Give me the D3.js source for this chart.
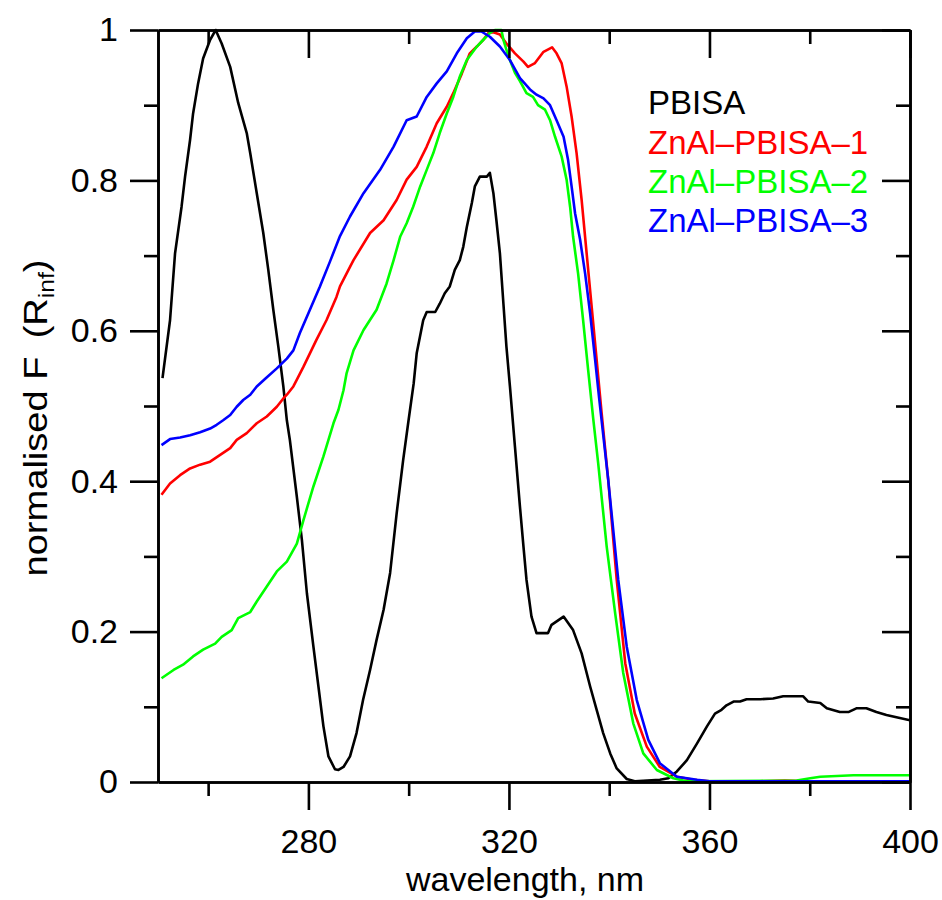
<!DOCTYPE html>
<html>
<head>
<meta charset="utf-8">
<script src="https://cdn.jsdelivr.net/npm/d3@7"></script>
<style>
  html, body { margin: 0; padding: 0; background: #fff; }
  svg { display: block; }
  text { font-family: "Liberation Sans", Arial, sans-serif; }
</style>
</head>
<body>
<svg id="chart" width="942" height="900"></svg>
<script>
// ---------- DATA ----------
const seriesNames = ["PBISA", "ZnAl\u2013PBISA\u20131", "ZnAl\u2013PBISA\u20132", "ZnAl\u2013PBISA\u20133"];
const seriesColors = ["#000000", "#ff0000", "#00ff00", "#0000ff"];

const pbisaX = [250.9,252.4,253.4,254.7,255.4,256.4,257.0,258.0,259.0,260.4,261.5,262.7,264.4,266.0,267.7,268.4,269.7,271.0,272.0,273.0,274.0,275.0,275.7,276.3,277.7,278.7,279.7,281.0,282.0,283.0,284.0,285.3,286.0,287.0,288.3,289.6,290.9,292.3,293.6,295.0,296.3,297.6,298.9,300.0,301.0,301.6,302.9,303.6,305.3,306.2,307.2,308.2,309.2,310.2,310.9,311.6,312.6,313.2,314.2,315.6,316.2,316.9,317.5,318.2,318.9,319.5,320.2,321.2,322.2,322.9,323.5,324.5,325.5,327.8,328.5,330.9,332.8,334.5,336.2,337.5,338.8,340.2,341.5,343.5,345.1,350.1,351.8,353.5,355.5,357.5,359.5,361.1,362.4,363.4,364.8,366.1,367.4,370.1,372.7,374.7,378.7,379.7,382.1,383.4,386.0,387.7,389.3,391.3,393.3,395.3,397.3,400.0];
const pbisaY = [0.537,0.614,0.703,0.765,0.805,0.854,0.889,0.929,0.962,0.987,1.000,0.982,0.951,0.903,0.863,0.836,0.783,0.730,0.681,0.628,0.579,0.526,0.481,0.455,0.379,0.322,0.251,0.180,0.127,0.074,0.034,0.017,0.016,0.020,0.034,0.065,0.109,0.149,0.189,0.229,0.278,0.357,0.428,0.482,0.530,0.570,0.614,0.625,0.625,0.636,0.650,0.659,0.681,0.694,0.712,0.738,0.770,0.792,0.805,0.805,0.810,0.783,0.747,0.703,0.636,0.579,0.526,0.446,0.366,0.313,0.269,0.220,0.198,0.198,0.209,0.220,0.202,0.171,0.127,0.096,0.065,0.038,0.018,0.004,0.001,0.003,0.005,0.014,0.029,0.051,0.074,0.091,0.096,0.102,0.107,0.107,0.110,0.110,0.111,0.114,0.114,0.107,0.105,0.098,0.093,0.093,0.098,0.098,0.093,0.089,0.086,0.082];

const znal1X = [250.7,252.4,254.4,256.4,258.4,260.4,262.4,264.4,265.7,267.7,269.7,271.7,273.7,275.0,275.7,277.0,277.7,279.0,281.6,283.6,285.6,286.3,288.3,289.0,292.3,295.0,297.6,299.6,301.6,303.6,305.6,307.6,308.9,310.6,312.2,313.6,314.9,315.9,316.9,318.2,319.5,321.2,322.9,323.8,325.2,326.9,328.6,329.5,330.5,331.5,332.5,333.5,334.5,335.5,336.5,337.5,338.5,339.8,341.5,343.2,345.1,347.5,350.1,353.5,356.8,360.0,370.0,375.0,380.0,390.0,400.0];
const znal1Y = [0.382,0.397,0.408,0.417,0.422,0.426,0.435,0.444,0.455,0.464,0.477,0.486,0.499,0.510,0.515,0.526,0.535,0.552,0.588,0.614,0.645,0.659,0.685,0.694,0.730,0.747,0.774,0.801,0.818,0.845,0.876,0.898,0.916,0.942,0.969,0.978,0.987,0.996,0.997,0.994,0.982,0.969,0.958,0.951,0.956,0.971,0.977,0.969,0.956,0.925,0.885,0.836,0.774,0.703,0.632,0.561,0.490,0.402,0.269,0.158,0.091,0.047,0.020,0.007,0.003,0.001,0.001,0.002,0.001,0.001,0.001];

const znal2X = [250.7,253.1,255.0,257.0,259.0,261.4,262.7,264.7,266.0,268.4,269.7,271.7,273.7,275.7,277.7,279.0,281.0,283.0,285.0,286.0,287.0,287.6,289.0,291.0,293.6,295.6,297.0,298.3,299.6,300.9,302.3,303.6,304.9,306.2,307.6,308.9,310.2,311.6,313.6,314.9,316.2,317.2,318.5,318.9,319.9,321.2,322.2,323.5,324.8,325.8,327.2,328.2,329.2,330.5,331.5,332.2,332.8,333.8,334.8,335.8,336.8,337.8,339.5,341.2,342.8,344.8,346.8,349.5,352.8,355.4,377.4,380.1,382.1,388.7,400.0];
const znal2Y = [0.138,0.149,0.156,0.167,0.176,0.184,0.193,0.202,0.218,0.226,0.240,0.260,0.280,0.293,0.317,0.348,0.393,0.433,0.477,0.495,0.521,0.543,0.574,0.601,0.628,0.663,0.694,0.725,0.743,0.765,0.792,0.814,0.836,0.863,0.889,0.911,0.938,0.960,0.978,0.987,0.996,1.000,1.000,0.987,0.965,0.943,0.932,0.916,0.911,0.900,0.894,0.880,0.858,0.832,0.801,0.765,0.725,0.676,0.614,0.548,0.484,0.424,0.313,0.224,0.145,0.078,0.038,0.016,0.005,0.001,0.002,0.005,0.007,0.009,0.009];

const znal3X = [250.7,252.4,254.4,256.4,258.4,260.4,261.7,263.0,264.4,265.7,267.0,268.4,269.7,271.5,273.7,275.7,277.0,278.3,280.3,282.3,284.3,286.3,288.3,291.0,294.3,297.0,299.6,301.6,303.6,305.6,307.6,309.6,311.6,313.2,314.5,316.2,318.2,320.2,322.2,324.2,325.5,326.9,328.2,329.5,330.9,331.8,332.5,333.2,334.2,335.2,336.2,337.2,338.0,339.8,341.8,343.5,345.5,347.8,350.1,353.5,357.5,360.0,400.0];
const znal3Y = [0.448,0.456,0.458,0.461,0.465,0.470,0.475,0.481,0.488,0.499,0.508,0.515,0.526,0.537,0.550,0.563,0.574,0.597,0.628,0.659,0.692,0.726,0.752,0.783,0.814,0.845,0.880,0.885,0.911,0.929,0.945,0.969,0.989,0.998,0.998,0.991,0.978,0.960,0.936,0.921,0.914,0.909,0.900,0.880,0.858,0.827,0.792,0.756,0.721,0.676,0.623,0.561,0.510,0.402,0.269,0.180,0.109,0.056,0.025,0.007,0.003,0.001,0.001];

const xMajorTicks = [280, 320, 360, 400];
const xMinorTicks = [260, 300, 340, 380];
const yMajorTicks = [0, 0.2, 0.4, 0.6, 0.8, 1];
const yMinorTicks = [0.1, 0.3, 0.5, 0.7, 0.9];
const yTickLabels = ["0", "0.2", "0.4", "0.6", "0.8", "1"];

// ---------- CHART ----------
(function () {
const svg = d3.select("#chart");
const pL = 158, pR = 910, pT = 30, pB = 782;
const x = d3.scaleLinear().domain([250, 400]).range([pL, pR]);
const y = d3.scaleLinear().domain([0, 1]).range([pB, pT]);

const xs = [pbisaX, znal1X, znal2X, znal3X];
const ys = [pbisaY, znal1Y, znal2Y, znal3Y];

const line = d3.line().x(d => x(d[0])).y(d => y(d[1]));

svg.append("defs").append("clipPath").attr("id", "plotclip")
  .append("rect").attr("x", pL).attr("y", pT - 2).attr("width", pR - pL).attr("height", pB - pT + 2);

const plot = svg.append("g").attr("clip-path", "url(#plotclip)");
xs.forEach((xa, i) => {
  const pts = xa.map((v, j) => [v, ys[i][j]]);
  plot.append("path")
    .attr("d", line(pts))
    .attr("fill", "none")
    .attr("stroke", seriesColors[i])
    .attr("stroke-width", 2.6)
    .attr("stroke-linejoin", "round");
});

const AX_W = 2.6;
const FS = 34;
function styleAxis(g) {
  g.selectAll("path.domain").attr("stroke", "#000").attr("stroke-width", AX_W);
  g.selectAll(".tick line").attr("stroke", "#000").attr("stroke-width", AX_W);
  g.selectAll("text").attr("fill", "#000").style("font-size", FS + "px")
    .style("font-family", '"Liberation Sans", Arial, sans-serif');
}

// bottom
svg.append("g").attr("transform", `translate(0,${pB})`)
  .call(d3.axisBottom(x).tickValues(xMajorTicks).tickSize(28).tickSizeOuter(0).tickPadding(19).tickFormat(d3.format("d")))
  .call(styleAxis);
svg.append("g").attr("transform", `translate(0,${pB})`)
  .call(d3.axisBottom(x).tickValues(xMinorTicks).tickSize(14).tickSizeOuter(0).tickFormat(""))
  .call(styleAxis);
// top
svg.append("g").attr("transform", `translate(0,${pT})`)
  .call(d3.axisTop(x).tickValues(xMajorTicks).tickSize(-28).tickSizeOuter(0).tickFormat(""))
  .call(styleAxis);
svg.append("g").attr("transform", `translate(0,${pT})`)
  .call(d3.axisTop(x).tickValues(xMinorTicks).tickSize(-14).tickSizeOuter(0).tickFormat(""))
  .call(styleAxis);
// left
svg.append("g").attr("transform", `translate(${pL},0)`)
  .call(d3.axisLeft(y).tickValues(yMajorTicks).tickSize(28).tickSizeOuter(0).tickPadding(12)
    .tickFormat((d, i) => yTickLabels[i]))
  .call(styleAxis);
svg.append("g").attr("transform", `translate(${pL},0)`)
  .call(d3.axisLeft(y).tickValues(yMinorTicks).tickSize(14).tickSizeOuter(0).tickFormat(""))
  .call(styleAxis);
// right
svg.append("g").attr("transform", `translate(${pR},0)`)
  .call(d3.axisRight(y).tickValues(yMajorTicks).tickSize(-28).tickSizeOuter(0).tickFormat(""))
  .call(styleAxis);
svg.append("g").attr("transform", `translate(${pR},0)`)
  .call(d3.axisRight(y).tickValues(yMinorTicks).tickSize(-14).tickSizeOuter(0).tickFormat(""))
  .call(styleAxis);

// axis titles
svg.append("text")
  .attr("x", 525).attr("y", 891)
  .attr("text-anchor", "middle")
  .style("font-size", FS + "px")
  .text("wavelength, nm");

const yl = svg.append("text")
  .attr("transform", "translate(47,418) rotate(-90) scale(1.12,1)")
  .attr("text-anchor", "middle")
  .style("font-size", FS + "px");
yl.append("tspan").text("normalised F\u2009 (R");
yl.append("tspan").attr("dy", 7).style("font-size", "22px").text("inf");
yl.append("tspan").attr("dy", -7).text(")");

// legend
const legendY = [114, 154, 193, 232];
svg.append("g").selectAll("text")
  .data(seriesNames)
  .join("text")
  .attr("x", 648)
  .attr("y", (d, i) => legendY[i])
  .attr("fill", (d, i) => seriesColors[i])
  .style("font-size", "33px")
  .text(d => d);
})();
</script>
</body>
</html>
